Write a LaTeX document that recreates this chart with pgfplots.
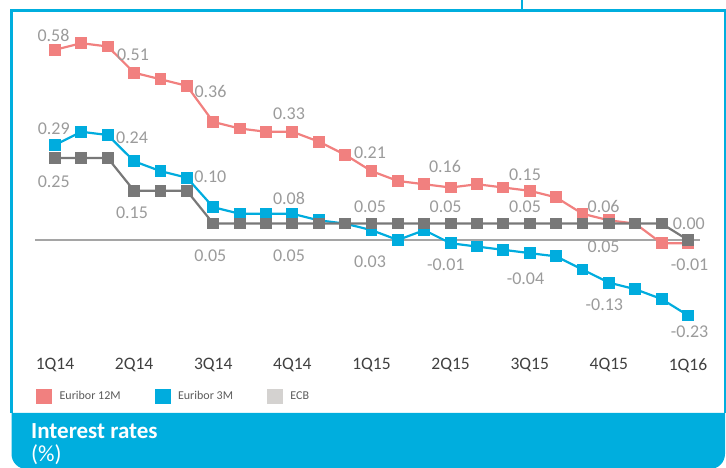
\documentclass[border=0pt]{standalone}
\usepackage{pgfplots}
\pgfplotsset{compat=1.18}
\usepackage{fontspec}
\setmainfont{Carlito}
\definecolor{c12}{RGB}{241,128,127}
\definecolor{c3}{RGB}{0,172,222}
\definecolor{cecb}{RGB}{120,120,120}
\definecolor{cecbleg}{RGB}{212,210,208}
\definecolor{framec}{RGB}{0,174,222}
\definecolor{labgray}{RGB}{155,155,155}
\definecolor{tickgray}{RGB}{64,64,64}
\definecolor{leggray}{RGB}{90,90,90}
\definecolor{zerogray}{RGB}{165,165,165}
\tikzset{labs/.style={font=\fontsize{18bp}{20bp}\selectfont, text=labgray, inner sep=0pt, anchor=center}}
\begin{document}
\begin{tikzpicture}
\path[use as bounding box] (0,0) rectangle (726bp,468bp);
\begin{scope}[x=1bp,y=-1bp,yshift=468bp]
\fill[framec] (11.5,413) -- (725,413) [rounded corners=15bp] -- (725,469) -- (11.5,469) [sharp corners] -- cycle;
\draw[framec, line width=2.5bp] (11.5,413) -- (11.5,10.5) -- (726,10.5);
\draw[framec, line width=2bp] (725,10.5) -- (725,413);
\draw[framec, line width=2bp] (522,0) -- (522,10.5);
\node[anchor=base west, inner sep=0pt, text=white, font=\bfseries\fontsize{23bp}{26bp}\selectfont] at (31,439) {Interest rates};
\node[anchor=base west, inner sep=0pt, text=white, font=\fontsize{23bp}{26bp}\selectfont] at (31,462) {(\%)};
\end{scope}
\begin{axis}[
  at={(28.625bp,113.2bp)}, anchor=south west,
  scale only axis, x=26.375bp, y=328bp,
  xmin=-1, xmax=25, ymin=-0.35, ymax=0.7,
  clip=false,
  axis line style={draw=none},
  major tick length=0pt,
  ytick=\empty,
  xtick={0,3,...,24},
  xticklabels={1Q14,2Q14,3Q14,4Q14,1Q15,2Q15,3Q15,4Q15,1Q16},
  xticklabel style={font=\fontsize{17.5bp}{20bp}\selectfont, text=tickgray},
  legend columns=3,
  legend image code/.code={\fill[#1] (0bp,-7bp) rectangle (15bp,7bp);},
  legend style={at={(0.01075,-0.1196)}, anchor=west, draw=none, fill=none,
    inner sep=0pt, font=\fontsize{12bp}{14bp}\selectfont, text=leggray,
    nodes={inner sep=0pt},
    /tikz/every odd column/.append style={column sep=8bp},
    /tikz/every even column/.append style={column sep=34bp}},
]
\draw[zerogray, line width=1.5bp] (axis cs:-0.76,0) -- (axis cs:24.45,0);
\addlegendimage{c12}\addlegendentry{Euribor 12M}
\addlegendimage{c3}\addlegendentry{Euribor 3M}
\addlegendimage{cecbleg}\addlegendentry{ECB}
\addplot[c12, line width=2.2bp, mark=square*, mark size=4.8bp, forget plot] coordinates {
(0,0.58) (1,0.60) (2,0.59) (3,0.51) (4,0.49) (5,0.47) (6,0.36) (7,0.34) (8,0.33)
(9,0.33) (10,0.30) (11,0.26) (12,0.21) (13,0.18) (14,0.17) (15,0.16) (16,0.17)
(17,0.16) (18,0.15) (19,0.13) (20,0.08) (21,0.06) (22,0.05) (23,-0.01) (24,-0.01)};
\addplot[c3, line width=2.2bp, mark=square*, mark size=4.8bp, forget plot] coordinates {
(0,0.29) (1,0.33) (2,0.32) (3,0.24) (4,0.21) (5,0.19) (6,0.10) (7,0.08) (8,0.08)
(9,0.08) (10,0.06) (11,0.05) (12,0.03) (13,0.00) (14,0.03) (15,-0.01) (16,-0.02)
(17,-0.03) (18,-0.04) (19,-0.05) (20,-0.09) (21,-0.13) (22,-0.15) (23,-0.18) (24,-0.23)};
\addplot[cecb, line width=2.2bp, mark=square*, mark size=4.8bp, forget plot] coordinates {
(0,0.25) (1,0.25) (2,0.25) (3,0.15) (4,0.15) (5,0.15) (6,0.05) (7,0.05) (8,0.05)
(9,0.05) (10,0.05) (11,0.05) (12,0.05) (13,0.05) (14,0.05) (15,0.05) (16,0.05)
(17,0.05) (18,0.05) (19,0.05) (20,0.05) (21,0.05) (22,0.05) (23,0.05) (24,0.00)};
% Euribor 12M labels
\node[labs] at (axis cs:-0.057,0.625) {0.58};
\node[labs] at (axis cs:2.957,0.564) {0.51};
\node[labs] at (axis cs:5.896,0.452) {0.36};
\node[labs] at (axis cs:8.872,0.384) {0.33};
\node[labs] at (axis cs:11.943,0.266) {0.21};
\node[labs] at (axis cs:14.787,0.2235) {0.16};
\node[labs] at (axis cs:17.82,0.198) {0.15};
\node[labs] at (axis cs:20.80,0.1015) {0.06};
\node[labs] at (axis cs:24.06,-0.076) {-0.01};
% ECB labels
\node[labs] at (axis cs:-0.049,0.178) {0.25};
\node[labs] at (axis cs:2.919,0.0845) {0.15};
\node[labs] at (axis cs:5.888,-0.049) {0.05};
\node[labs] at (axis cs:8.872,-0.049) {0.05};
\node[labs] at (axis cs:11.943,0.1015) {0.05};
\node[labs] at (axis cs:14.81,0.1015) {0.05};
\node[labs] at (axis cs:17.82,0.1015) {0.05};
\node[labs] at (axis cs:20.80,-0.0204) {0.05};
\node[labs] at (axis cs:24.03,0.051) {0.00};
% Euribor 3M labels
\node[labs] at (axis cs:-0.049,0.3405) {0.29};
\node[labs] at (axis cs:2.919,0.312) {0.24};
\node[labs] at (axis cs:5.888,0.193) {0.10};
\node[labs] at (axis cs:8.872,0.127) {0.08};
\node[labs] at (axis cs:11.943,-0.066) {0.03};
\node[labs] at (axis cs:14.817,-0.076) {-0.01};
\node[labs] at (axis cs:17.84,-0.117) {-0.04};
\node[labs] at (axis cs:20.83,-0.198) {-0.13};
\node[labs] at (axis cs:24.06,-0.2796) {-0.23};
\end{axis}
\end{tikzpicture}
\end{document}
